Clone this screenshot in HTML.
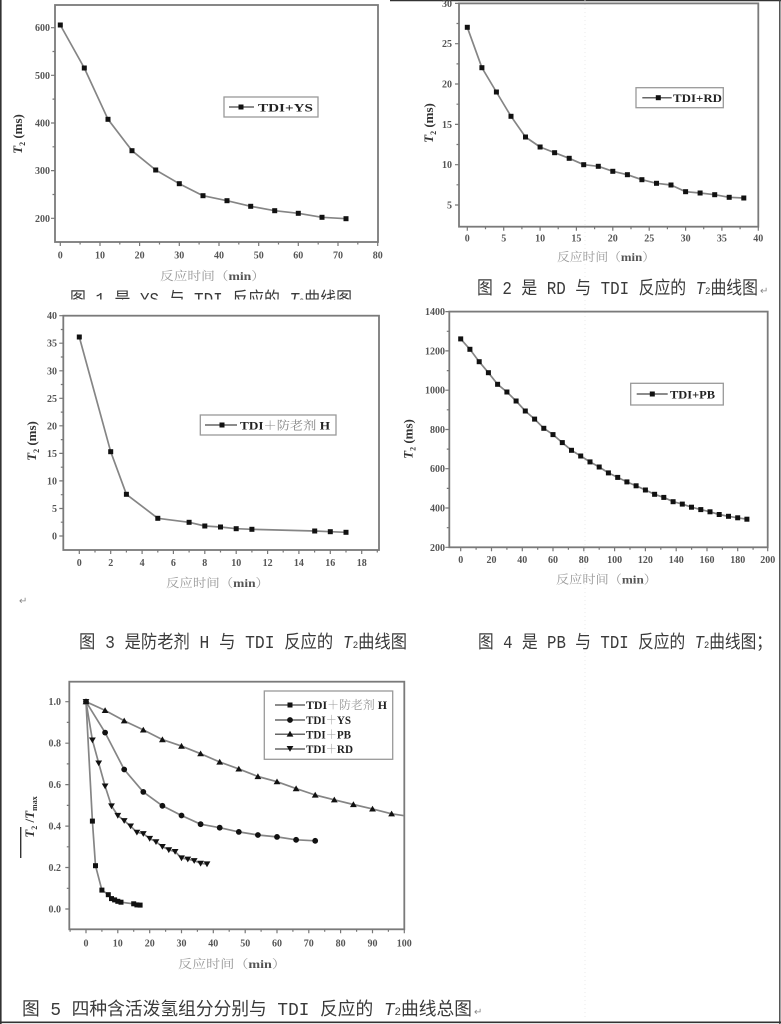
<!DOCTYPE html>
<html>
<head>
<meta charset="utf-8">
<style>
  html,body{margin:0;padding:0;background:#fff;}
  svg{display:block;}
  .tk{font-family:"Liberation Serif",serif;font-weight:bold;font-size:10px;fill:#555;}
  .lg{font-family:"Liberation Serif","Noto Serif CJK SC",serif;font-weight:bold;font-size:12px;fill:#222;}
  .yl{font-family:"Liberation Serif",serif;font-weight:bold;font-size:13px;fill:#333;}
  .xl{font-family:"Liberation Serif","Noto Serif CJK SC",serif;font-size:12px;fill:#999;}
  .cap{font-family:"Liberation Mono","Noto Sans CJK SC",sans-serif;font-size:18px;fill:#3a3a3a;}
  .ret{font-family:"DejaVu Sans",sans-serif;font-size:10px;fill:#888;}
  .fr{fill:none;stroke:#7a7a7a;stroke-width:1.8;}
  .ax{fill:none;stroke:#777;stroke-width:1.2;}
  .cv{fill:none;stroke:#858585;stroke-width:1.7;stroke-linejoin:round;}
  .lb{fill:#fff;stroke:#999;stroke-width:1.3;}
</style>
</head>
<body>
<svg width="781" height="1024" viewBox="0 0 781 1024" xmlns="http://www.w3.org/2000/svg">
<defs>
  <marker id="sq" markerWidth="6" markerHeight="6" refX="3" refY="3" markerUnits="userSpaceOnUse"><rect x="0.5" y="0.5" width="5" height="5" fill="#111"/></marker>
  <marker id="ci" markerWidth="7" markerHeight="7" refX="3.5" refY="3.5" markerUnits="userSpaceOnUse"><circle cx="3.5" cy="3.5" r="2.9" fill="#111"/></marker>
  <marker id="tu" markerWidth="8" markerHeight="8" refX="4" refY="4" markerUnits="userSpaceOnUse"><polygon points="4,0.8 7.4,6.6 0.6,6.6" fill="#111"/></marker>
  <marker id="td" markerWidth="8" markerHeight="8" refX="4" refY="4" markerUnits="userSpaceOnUse"><polygon points="0.6,1.4 7.4,1.4 4,7.2" fill="#111"/></marker>
  <clipPath id="c1"><rect x="0" y="280" width="390" height="19.5"/></clipPath>
  <clipPath id="c5"><rect x="69.3" y="681.7" width="335" height="247.6"/></clipPath>
</defs>

<!-- page borders -->
<line x1="0.8" y1="0" x2="0.8" y2="1024" stroke="#333" stroke-width="1.6"/>
<line x1="390" y1="0.6" x2="781" y2="0.6" stroke="#333" stroke-width="1.4"/>
<line x1="779.8" y1="0" x2="779.8" y2="1024" stroke="#444" stroke-width="1.4"/>
<line x1="0" y1="1022.3" x2="781" y2="1022.3" stroke="#333" stroke-width="1.6"/>
<line x1="585" y1="0" x2="585" y2="1020" stroke="#e6e6e6" stroke-width="0.8" stroke-dasharray="1 3"/>

<!-- ================= Chart 1 ================= -->
<rect class="fr" x="55" y="5" width="323" height="237"/>
<path class="ax" d="M60.3 242v4M100 242v4M139.6 242v4M179.3 242v4M219 242v4M258.7 242v4M298.3 242v4M338 242v4M377.7 242v4
M80.1 242v2.5M119.8 242v2.5M159.5 242v2.5M199.1 242v2.5M238.8 242v2.5M278.5 242v2.5M318.2 242v2.5M357.8 242v2.5
M55 218.3h-4M55 170.6h-4M55 123h-4M55 75.3h-4M55 27.7h-4M55 194.5h-2.5M55 146.8h-2.5M55 99.1h-2.5M55 51.5h-2.5"/>
<g class="tk" text-anchor="end">
  <text x="50" y="222">200</text><text x="50" y="174">300</text><text x="50" y="126.5">400</text><text x="50" y="79">500</text><text x="50" y="31">600</text>
</g>
<g class="tk" text-anchor="middle">
  <text x="60.3" y="258.5">0</text><text x="100" y="258.5">10</text><text x="139.6" y="258.5">20</text><text x="179.3" y="258.5">30</text><text x="219" y="258.5">40</text><text x="258.7" y="258.5">50</text><text x="298.3" y="258.5">60</text><text x="338" y="258.5">70</text><text x="377.7" y="258.5">80</text>
</g>
<polyline class="cv" marker-start="url(#sq)" marker-mid="url(#sq)" marker-end="url(#sq)" points="60.3,25 84.3,68 108,119.3 132,150.7 155.7,170 179.3,183.7 203,195.7 227,200.7 250.7,206.3 274.7,210.7 298.3,213.3 322,217.3 346,218.7"/>
<rect class="lb" x="224" y="97" width="94" height="20"/>
<line x1="229" y1="107" x2="254" y2="107" stroke="#666" stroke-width="1.5"/>
<rect x="238.5" y="104.5" width="5" height="5" fill="#111"/>
<text class="lg" x="258" y="111.5" textLength="55" lengthAdjust="spacingAndGlyphs">TDI+YS</text>
<text class="yl" transform="translate(22,134) rotate(-90)" text-anchor="middle"><tspan font-style="italic">T</tspan><tspan font-size="8" dy="3">2</tspan><tspan dy="-3"> (ms)</tspan></text>
<text class="xl" x="160" y="280" textLength="105" lengthAdjust="spacingAndGlyphs">反应时间（<tspan font-weight="bold" fill="#555">min</tspan>）</text>
<g clip-path="url(#c1)">
  <text class="cap" x="70" y="305" font-size="17" textLength="282" lengthAdjust="spacingAndGlyphs">图 1 是 YS 与 TDI 反应的 <tspan font-style="italic">T</tspan><tspan font-size="10">2</tspan>曲线图</text>
</g>

<!-- ================= Chart 2 ================= -->
<rect class="fr" x="459" y="3.4" width="299.3" height="223.3"/>
<path class="ax" d="M467.3 226.7v4M503.7 226.7v4M540.1 226.7v4M576.4 226.7v4M612.8 226.7v4M649.2 226.7v4M685.6 226.7v4M721.9 226.7v4M758.3 226.7v4
M485.5 226.7v2.5M521.9 226.7v2.5M558.2 226.7v2.5M594.6 226.7v2.5M631 226.7v2.5M667.4 226.7v2.5M703.7 226.7v2.5M740.1 226.7v2.5
M459 205h-4M459 164.7h-4M459 124.4h-4M459 84h-4M459 43.7h-4M459 3.4h-4M459 184.8h-2.5M459 144.5h-2.5M459 104.2h-2.5M459 63.9h-2.5M459 23.5h-2.5"/>
<g class="tk" text-anchor="end">
  <text x="452" y="208.5">5</text><text x="452" y="168.2">10</text><text x="452" y="128">15</text><text x="452" y="87.5">20</text><text x="452" y="47.2">25</text><text x="452" y="7">30</text>
</g>
<g class="tk" text-anchor="middle">
  <text x="467.3" y="241.5">0</text><text x="503.7" y="241.5">5</text><text x="540.1" y="241.5">10</text><text x="576.4" y="241.5">15</text><text x="612.8" y="241.5">20</text><text x="649.2" y="241.5">25</text><text x="685.6" y="241.5">30</text><text x="721.9" y="241.5">35</text><text x="758.3" y="241.5">40</text>
</g>
<polyline class="cv" marker-start="url(#sq)" marker-mid="url(#sq)" marker-end="url(#sq)" points="467.3,27.3 481.9,67.7 496.4,92 511,116.3 525.5,137 540.1,147 554.6,152.7 569.2,158.3 583.7,164.7 598.3,166.3 612.8,171.3 627.4,174.7 641.9,179.7 656.5,183.3 671,185 685.6,191.7 700.1,193 714.7,194.7 729.2,197.3 743.8,198"/>
<rect class="lb" x="636" y="87.7" width="87.3" height="20"/>
<line x1="642.3" y1="97.7" x2="671.7" y2="97.7" stroke="#666" stroke-width="1.5"/>
<rect x="655.8" y="95.2" width="5" height="5" fill="#111"/>
<text class="lg" x="673" y="102" textLength="49" lengthAdjust="spacingAndGlyphs">TDI+RD</text>
<text class="yl" transform="translate(433,123) rotate(-90)" text-anchor="middle"><tspan font-style="italic">T</tspan><tspan font-size="8" dy="3">2</tspan><tspan dy="-3"> (ms)</tspan></text>
<text class="xl" x="557" y="261" textLength="98" lengthAdjust="spacingAndGlyphs">反应时间（<tspan font-weight="bold" fill="#555">min</tspan>）</text>
<text class="cap" x="477" y="294" textLength="281" lengthAdjust="spacingAndGlyphs">图 2 是 RD 与 TDI 反应的 <tspan font-style="italic">T</tspan><tspan font-size="10">2</tspan>曲线图</text>
<text class="ret" x="760" y="294">↵</text>

<!-- ================= Chart 3 ================= -->
<rect class="fr" x="63.3" y="315.7" width="315.7" height="234.3"/>
<path class="ax" d="M79.3 550v4M110.7 550v4M142.1 550v4M173.4 550v4M204.8 550v4M236.2 550v4M267.6 550v4M298.9 550v4M330.3 550v4M361.7 550v4
M95 550v2.5M126.4 550v2.5M157.8 550v2.5M189.1 550v2.5M220.5 550v2.5M251.9 550v2.5M283.2 550v2.5M314.6 550v2.5M346 550v2.5M377.3 550v2.5
M63.3 536h-4M63.3 508.5h-4M63.3 480.9h-4M63.3 453.4h-4M63.3 425.8h-4M63.3 398.3h-4M63.3 370.8h-4M63.3 343.2h-4M63.3 315.7h-4
M63.3 522.2h-2.5M63.3 494.7h-2.5M63.3 467.2h-2.5M63.3 439.6h-2.5M63.3 412.1h-2.5M63.3 384.5h-2.5M63.3 357h-2.5M63.3 329.5h-2.5"/>
<g class="tk" text-anchor="end">
  <text x="57" y="539.5">0</text><text x="57" y="512">5</text><text x="57" y="484.4">10</text><text x="57" y="456.9">15</text><text x="57" y="429.3">20</text><text x="57" y="401.8">25</text><text x="57" y="374.3">30</text><text x="57" y="346.7">35</text><text x="57" y="319.2">40</text>
</g>
<g class="tk" text-anchor="middle">
  <text x="79.3" y="566">0</text><text x="110.7" y="566">2</text><text x="142.1" y="566">4</text><text x="173.4" y="566">6</text><text x="204.8" y="566">8</text><text x="236.2" y="566">10</text><text x="267.6" y="566">12</text><text x="298.9" y="566">14</text><text x="330.3" y="566">16</text><text x="361.7" y="566">18</text>
</g>
<polyline class="cv" marker-start="url(#sq)" marker-mid="url(#sq)" marker-end="url(#sq)" points="79.3,337 110.7,451.7 126.4,494.3 157.8,518.3 189.1,522.3 204.8,526 220.5,527 236.2,528.7 251.9,529.3 314.7,531 330.3,531.7 346,532.3"/>
<rect class="lb" x="200.3" y="415" width="135.7" height="20"/>
<line x1="205" y1="425" x2="237" y2="425" stroke="#666" stroke-width="1.5"/>
<rect x="219.5" y="422.5" width="5" height="5" fill="#111"/>
<text class="lg" x="240" y="429.5" textLength="90" lengthAdjust="spacingAndGlyphs">TDI<tspan fill="#888" font-weight="normal">＋防老剂</tspan> H</text>
<text class="yl" transform="translate(36,441) rotate(-90)" text-anchor="middle"><tspan font-style="italic">T</tspan><tspan font-size="8" dy="3">2</tspan><tspan dy="-3"> (ms)</tspan></text>
<text class="xl" x="166" y="587" textLength="103" lengthAdjust="spacingAndGlyphs">反应时间（<tspan font-weight="bold" fill="#555">min</tspan>）</text>
<text class="ret" x="19" y="604">↵</text>
<text class="cap" x="79" y="648" textLength="328" lengthAdjust="spacingAndGlyphs">图 3 是防老剂 H 与 TDI 反应的 <tspan font-style="italic">T</tspan><tspan font-size="10">2</tspan>曲线图</text>

<!-- ================= Chart 4 ================= -->
<rect class="fr" x="449.3" y="311.6" width="318.4" height="235.7"/>
<path class="ax" d="M460.7 547.3v4M491.5 547.3v4M522.3 547.3v4M553 547.3v4M583.8 547.3v4M614.6 547.3v4M645.4 547.3v4M676.2 547.3v4M707 547.3v4M737.7 547.3v4M767.7 547.3v4
M476.1 547.3v2.5M506.9 547.3v2.5M537.7 547.3v2.5M568.4 547.3v2.5M599.2 547.3v2.5M630 547.3v2.5M660.8 547.3v2.5M691.6 547.3v2.5M722.4 547.3v2.5M753.1 547.3v2.5
M449.3 547.3h-4M449.3 508h-4M449.3 468.7h-4M449.3 429.5h-4M449.3 390.2h-4M449.3 350.9h-4M449.3 311.6h-4
M449.3 527.7h-2.5M449.3 488.4h-2.5M449.3 449.1h-2.5M449.3 409.8h-2.5M449.3 370.6h-2.5M449.3 331.3h-2.5"/>
<g class="tk" text-anchor="end">
  <text x="445" y="550.8">200</text><text x="445" y="511.5">400</text><text x="445" y="472.2">600</text><text x="445" y="433">800</text><text x="445" y="393.7">1000</text><text x="445" y="354.4">1200</text><text x="445" y="315.1">1400</text>
</g>
<g class="tk" text-anchor="middle">
  <text x="460.7" y="563">0</text><text x="491.5" y="563">20</text><text x="522.3" y="563">40</text><text x="553" y="563">60</text><text x="583.8" y="563">80</text><text x="614.6" y="563">100</text><text x="645.4" y="563">120</text><text x="676.2" y="563">140</text><text x="707" y="563">160</text><text x="737.7" y="563">180</text><text x="767.7" y="563">200</text>
</g>
<polyline class="cv" marker-start="url(#sq)" marker-mid="url(#sq)" marker-end="url(#sq)" points="460.7,338.9 469.9,349.3 479.2,361.7 488.4,372.7 497.6,384.3 506.9,392 516.1,401 525.3,411 534.6,419.1 543.8,428.3 553,434.6 562.3,442.6 571.5,450.3 580.7,456 590,461.9 599.2,467 608.4,472.9 617.7,477.4 626.9,481.9 636.1,485.8 645.4,490 654.6,494.3 663.8,497.4 673.1,501.7 682.3,504.1 691.5,507.2 700.8,509.6 710,511.8 719.2,514.5 728.5,516.3 737.7,517.8 746.9,519.2"/>
<rect class="lb" x="630.7" y="383.3" width="92.6" height="21.7"/>
<line x1="636.7" y1="394" x2="667.7" y2="394" stroke="#666" stroke-width="1.5"/>
<rect x="649.8" y="391.5" width="5" height="5" fill="#111"/>
<text class="lg" x="670" y="398.5" textLength="45" lengthAdjust="spacingAndGlyphs">TDI+PB</text>
<text class="yl" transform="translate(412.5,439) rotate(-90)" text-anchor="middle"><tspan font-style="italic">T</tspan><tspan font-size="8" dy="3">2</tspan><tspan dy="-3"> (ms)</tspan></text>
<text class="xl" x="556" y="583.5" textLength="101" lengthAdjust="spacingAndGlyphs">反应时间（<tspan font-weight="bold" fill="#555">min</tspan>）</text>
<text class="cap" x="478" y="648" textLength="294" lengthAdjust="spacingAndGlyphs">图 4 是 PB 与 TDI 反应的 <tspan font-style="italic">T</tspan><tspan font-size="10">2</tspan>曲线图；</text>

<!-- ================= Chart 5 ================= -->
<rect class="fr" x="69.3" y="681.7" width="335" height="247.6"/>
<path class="ax" d="M86 929.3v4M117.8 929.3v4M149.7 929.3v4M181.5 929.3v4M213.3 929.3v4M245.2 929.3v4M277 929.3v4M308.8 929.3v4M340.6 929.3v4M372.5 929.3v4M404.3 929.3v4
M70.1 929.3v2.5M101.9 929.3v2.5M133.7 929.3v2.5M165.6 929.3v2.5M197.4 929.3v2.5M229.2 929.3v2.5M261.1 929.3v2.5M292.9 929.3v2.5M324.7 929.3v2.5M356.6 929.3v2.5M388.4 929.3v2.5
M69.3 909h-4M69.3 867.5h-4M69.3 826.1h-4M69.3 784.6h-4M69.3 743.2h-4M69.3 701.7h-4
M69.3 888.3h-2.5M69.3 846.8h-2.5M69.3 805.4h-2.5M69.3 763.9h-2.5M69.3 722.4h-2.5"/>
<g class="tk" text-anchor="end">
  <text x="61" y="912.5">0.0</text><text x="61" y="871">0.2</text><text x="61" y="829.6">0.4</text><text x="61" y="788.1">0.6</text><text x="61" y="746.7">0.8</text><text x="61" y="705.2">1.0</text>
</g>
<g class="tk" text-anchor="middle">
  <text x="86" y="946.5">0</text><text x="117.8" y="946.5">10</text><text x="149.7" y="946.5">20</text><text x="181.5" y="946.5">30</text><text x="213.3" y="946.5">40</text><text x="245.2" y="946.5">50</text><text x="277" y="946.5">60</text><text x="308.8" y="946.5">70</text><text x="340.6" y="946.5">80</text><text x="372.5" y="946.5">90</text><text x="404.3" y="946.5">100</text>
</g>
<g clip-path="url(#c5)">
  <line class="cv" x1="391.6" y1="813.8" x2="404.3" y2="815.7"/>
</g>
<polyline class="cv" marker-start="url(#tu)" marker-mid="url(#tu)" marker-end="url(#tu)" points="86,701.7 105.1,710.4 124.2,720.8 143.3,729.9 162.4,739.6 181.5,746.1 200.6,753.7 219.7,762 238.8,768.9 257.9,776.5 277,781.7 296.1,788.6 315.2,795 334.3,799.8 353.4,804.5 372.5,808.9 391.6,813.8"/>
<polyline class="cv" marker-start="url(#ci)" marker-mid="url(#ci)" marker-end="url(#ci)" points="86,701.7 105.1,732.6 124.2,769.5 143.3,791.9 162.4,805.8 181.5,815.5 200.6,824.2 219.7,827.7 238.8,831.9 257.9,835 277,836.9 296.1,839.8 315.2,840.8"/>
<polyline class="cv" marker-start="url(#td)" marker-mid="url(#td)" marker-end="url(#td)" points="86,701.7 92.4,740.1 98.7,763.1 105.1,786.1 111.5,806 117.8,815.5 124.2,820.7 130.6,826.1 136.9,832.3 143.3,833.7 149.7,838.5 156,841.8 162.4,846.6 168.8,849.9 175.1,851.6 181.5,858 187.8,859.2 194.2,860.7 200.6,863.4 207,864"/>
<polyline class="cv" marker-start="url(#sq)" marker-mid="url(#sq)" marker-end="url(#sq)" points="86,701.7 92.4,821.1 95.5,865.7 101.9,890.1 108.3,894.7 111.5,898.6 114.6,899.9 117.8,901.3 121,902.2 133.7,903.8 136.9,904.9 140.1,905.1"/>
<rect class="lb" x="264.3" y="691" width="128.4" height="68.3"/>
<g stroke="#666" stroke-width="1.5">
  <line x1="275" y1="705" x2="305" y2="705"/><line x1="275" y1="720" x2="305" y2="720"/><line x1="275" y1="734.3" x2="305" y2="734.3"/><line x1="275" y1="749" x2="305" y2="749"/>
</g>
<rect x="287.5" y="702.5" width="5" height="5" fill="#111"/>
<circle cx="290" cy="720" r="2.9" fill="#111"/>
<polygon points="290,730.8 293.4,736.6 286.6,736.6" fill="#111"/>
<polygon points="286.6,746 293.4,746 290,751.8" fill="#111"/>
<text class="lg" x="306" y="709" textLength="81" lengthAdjust="spacingAndGlyphs">TDI<tspan fill="#999" font-weight="normal">＋防老剂</tspan> H</text>
<text class="lg" x="306" y="724" textLength="45" lengthAdjust="spacingAndGlyphs">TDI<tspan fill="#999" font-weight="normal">＋</tspan>YS</text>
<text class="lg" x="306" y="738.5" textLength="45" lengthAdjust="spacingAndGlyphs">TDI<tspan fill="#999" font-weight="normal">＋</tspan>PB</text>
<text class="lg" x="306" y="753" textLength="47" lengthAdjust="spacingAndGlyphs">TDI<tspan fill="#999" font-weight="normal">＋</tspan>RD</text>
<line x1="20.7" y1="827" x2="20.7" y2="858" stroke="#333" stroke-width="1.4"/>
<text class="yl" transform="translate(34,817) rotate(-90)" text-anchor="middle"><tspan font-style="italic">T</tspan><tspan font-size="8" dy="3">2</tspan><tspan dy="-3"> /</tspan><tspan font-style="italic">T</tspan><tspan font-size="8" dy="3">max</tspan></text>
<text class="xl" x="178" y="968" textLength="108" lengthAdjust="spacingAndGlyphs">反应时间（<tspan font-weight="bold" fill="#555">min</tspan>）</text>
<text class="cap" x="22" y="1015" font-size="19" textLength="450" lengthAdjust="spacingAndGlyphs">图 5  四种含活泼氢组分分别与 TDI 反应的 <tspan font-style="italic">T</tspan><tspan font-size="11">2</tspan>曲线总图</text>
<text class="ret" x="474" y="1015">↵</text>
</svg>
</body>
</html>
